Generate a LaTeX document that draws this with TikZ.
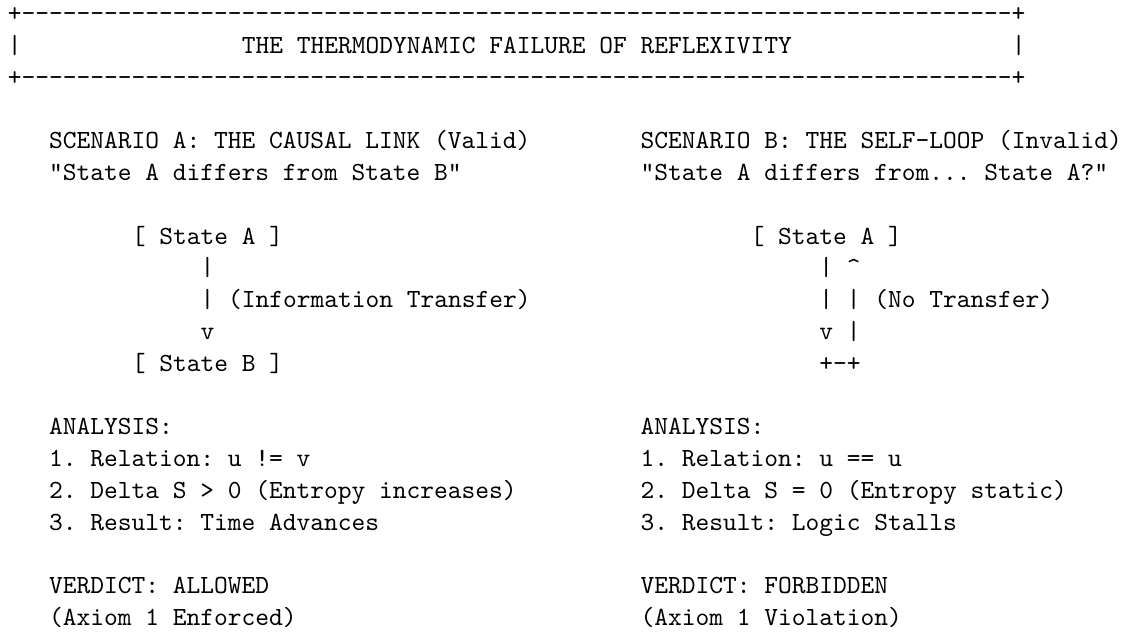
\documentclass[tikz,border=0pt]{standalone}
\begin{document}
\frenchspacing
\begin{tikzpicture}[x=5.25pt,y=-12.1418pt,
  asc/.style={anchor=base west,inner sep=0pt,outer sep=0pt,
    font=\fontsize{10pt}{12pt}\selectfont\ttfamily}]
\useasboundingbox[fill=white] (0pt,0pt) rectangle (429.545pt,-241.309pt);
\begin{scope}[shift={(3.0545pt,-8.209pt)}]
% title box
\node[asc] (boxtop) at (0,0) {+\foreach\i in {1,...,72}{-}+};
\node[asc] (boxl) at (0,1) {|};
\node[asc] (title) at (17,1) {THE THERMODYNAMIC FAILURE OF REFLEXIVITY};
\node[asc] (boxr) at (73,1) {|};
\node[asc] (boxbot) at (0,2) {+\foreach\i in {1,...,72}{-}+};
% scenario A
\node[asc] (ahead) at (3,4) {SCENARIO A: THE CAUSAL LINK (Valid)};
\node[asc] (aquote) at (3,5) {"State A differs from State B"};
\node[asc] (astateA) at (9,7) {[ State A ]};
\node[asc] (abar1) at (14,8) {|};
\node[asc] (abar2) at (14,9) {|};
\node[asc] (alabel) at (16,9) {(Information Transfer)};
\node[asc] (av) at (14,10) {v};
\node[asc] (astateB) at (9,11) {[ State B ]};
\node[asc] (aana) at (3,13) {ANALYSIS:};
\node[asc] (a1) at (3,14) {1. Relation: u != v};
\node[asc] (a2) at (3,15) {2. Delta S > 0 (Entropy increases)};
\node[asc] (a3) at (3,16) {3. Result: Time Advances};
\node[asc] (aver) at (3,18) {VERDICT: ALLOWED};
\node[asc] (aax) at (3,19) {(Axiom 1 Enforced)};
% scenario B
\node[asc] (bhead) at (46,4) {SCENARIO B: THE SELF-LOOP (Invalid)};
\node[asc] (bquote) at (46,5) {"State A differs from... State A?"};
\node[asc] (bstateA) at (54,7) {[ State A ]};
\node[asc] (bbar1) at (59,8) {|};
\node[asc] (bup) at (61,8) {\textasciicircum};
\node[asc] (bbar2) at (59,9) {|};
\node[asc] (bbar3) at (61,9) {|};
\node[asc] (blabel) at (63,9) {(No Transfer)};
\node[asc] (bv) at (59,10) {v};
\node[asc] (bbar4) at (61,10) {|};
\node[asc] (bloop) at (59,11) {+-+};
\node[asc] (bana) at (46,13) {ANALYSIS:};
\node[asc] (b1) at (46,14) {1. Relation: u == u};
\node[asc] (b2) at (46,15) {2. Delta S = 0 (Entropy static)};
\node[asc] (b3) at (46,16) {3. Result: Logic Stalls};
\node[asc] (bver) at (46,18) {VERDICT: FORBIDDEN};
\node[asc] (bax) at (46,19) {(Axiom 1 Violation)};
\end{scope}
\end{tikzpicture}
\end{document}
